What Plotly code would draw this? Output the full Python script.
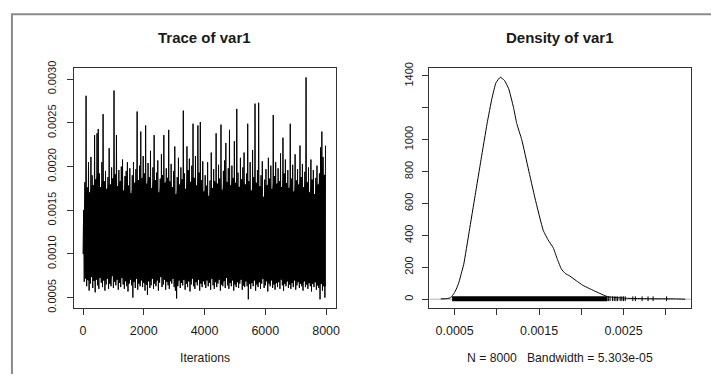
import plotly.graph_objects as go

# ---------------- data ----------------
# Trace of var1: per 40-iteration block, the block's low and high sample values
block_size = 40
trace_lo = [
    0.00100, 0.00068, 0.00072, 0.00063, 0.00070, 0.00058, 0.00066, 0.00074, 0.00061, 0.00069,
    0.00056, 0.00071, 0.00064, 0.00060, 0.00073, 0.00067, 0.00062, 0.00070, 0.00058, 0.00065,
    0.00072, 0.00060, 0.00066, 0.00063, 0.00075, 0.00061, 0.00068, 0.00064, 0.00071, 0.00059,
    0.00067, 0.00062, 0.00073, 0.00065, 0.00060, 0.00069, 0.00063, 0.00057, 0.00066, 0.00071,
    0.00064, 0.00050, 0.00068, 0.00061, 0.00072, 0.00059, 0.00066, 0.00063, 0.00070, 0.00062,
    0.00067, 0.00058, 0.00065, 0.00053, 0.00069, 0.00061, 0.00064, 0.00072, 0.00060, 0.00066,
    0.00063, 0.00070, 0.00058, 0.00067, 0.00074, 0.00062, 0.00065, 0.00071, 0.00059, 0.00068,
    0.00064, 0.00060, 0.00069, 0.00066, 0.00072, 0.00062, 0.00058, 0.00049, 0.00063, 0.00070,
    0.00061, 0.00067, 0.00064, 0.00071, 0.00059, 0.00066, 0.00062, 0.00069, 0.00057, 0.00065,
    0.00072, 0.00063, 0.00060, 0.00068, 0.00064, 0.00071, 0.00058, 0.00066, 0.00062, 0.00069,
    0.00065, 0.00061, 0.00070, 0.00063, 0.00067, 0.00059, 0.00072, 0.00064, 0.00060, 0.00068,
    0.00062, 0.00066, 0.00071, 0.00058, 0.00065, 0.00063, 0.00069, 0.00061, 0.00073, 0.00064,
    0.00060, 0.00067, 0.00063, 0.00070, 0.00058, 0.00065, 0.00062, 0.00068, 0.00061, 0.00066,
    0.00071, 0.00059, 0.00064, 0.00062, 0.00069, 0.00063, 0.00048, 0.00066, 0.00060, 0.00067,
    0.00063, 0.00070, 0.00058, 0.00065, 0.00062, 0.00068, 0.00060, 0.00066, 0.00072, 0.00061,
    0.00064, 0.00069, 0.00057, 0.00066, 0.00063, 0.00070, 0.00061, 0.00065, 0.00059, 0.00067,
    0.00062, 0.00068, 0.00060, 0.00071, 0.00064, 0.00058, 0.00066, 0.00063, 0.00069, 0.00061,
    0.00065, 0.00060, 0.00067, 0.00062, 0.00070, 0.00059, 0.00064, 0.00068, 0.00061, 0.00066,
    0.00063, 0.00058, 0.00069, 0.00062, 0.00065, 0.00060, 0.00067, 0.00063, 0.00057, 0.00066,
    0.00062, 0.00068, 0.00059, 0.00064, 0.00061, 0.00048, 0.00066, 0.00058, 0.00063, 0.00050,
]
trace_hi = [
    0.00150, 0.00182, 0.00281, 0.00176, 0.00205, 0.00170, 0.00211, 0.00190, 0.00178, 0.00236,
    0.00185, 0.00238, 0.00243, 0.00192, 0.00176, 0.00205, 0.00260, 0.00183, 0.00195, 0.00174,
    0.00188, 0.00221, 0.00179, 0.00199, 0.00186, 0.00287, 0.00191, 0.00236, 0.00177, 0.00196,
    0.00183, 0.00200, 0.00208, 0.00172, 0.00189, 0.00195, 0.00205, 0.00178, 0.00198, 0.00169,
    0.00190, 0.00205, 0.00181, 0.00197, 0.00263, 0.00184, 0.00201, 0.00240, 0.00186, 0.00212,
    0.00192, 0.00247, 0.00180, 0.00204, 0.00188, 0.00218, 0.00175, 0.00199, 0.00236, 0.00184,
    0.00193, 0.00207, 0.00170, 0.00186, 0.00214, 0.00190, 0.00236, 0.00181, 0.00198, 0.00187,
    0.00242, 0.00183, 0.00203, 0.00176, 0.00195, 0.00223, 0.00168, 0.00188, 0.00210, 0.00179,
    0.00199, 0.00185, 0.00264, 0.00192, 0.00174, 0.00223, 0.00196, 0.00209, 0.00182, 0.00201,
    0.00249, 0.00187, 0.00212, 0.00178, 0.00247, 0.00193, 0.00251, 0.00184, 0.00206, 0.00171,
    0.00190, 0.00178, 0.00205, 0.00166, 0.00184, 0.00216, 0.00175, 0.00197, 0.00183, 0.00238,
    0.00180, 0.00202, 0.00186, 0.00248, 0.00173, 0.00195, 0.00207, 0.00227, 0.00182, 0.00198,
    0.00242, 0.00178, 0.00201, 0.00187, 0.00229, 0.00181, 0.00266, 0.00193, 0.00176, 0.00210,
    0.00185, 0.00199, 0.00216, 0.00179, 0.00192, 0.00249, 0.00183, 0.00205, 0.00172, 0.00219,
    0.00188, 0.00272, 0.00181, 0.00196, 0.00273, 0.00177, 0.00190, 0.00206, 0.00165, 0.00185,
    0.00197, 0.00178, 0.00210, 0.00186, 0.00201, 0.00174, 0.00259, 0.00189, 0.00205, 0.00180,
    0.00198, 0.00183, 0.00215, 0.00176, 0.00233, 0.00192, 0.00208, 0.00181, 0.00196, 0.00175,
    0.00249, 0.00186, 0.00202, 0.00171, 0.00214, 0.00184, 0.00197, 0.00179, 0.00224, 0.00188,
    0.00203, 0.00176, 0.00194, 0.00302, 0.00182, 0.00199, 0.00170, 0.00208, 0.00185, 0.00196,
    0.00168, 0.00187, 0.00201, 0.00179, 0.00192, 0.00222, 0.00240, 0.00211, 0.00190, 0.00224,
]
trace_xticks = [0, 2000, 4000, 6000, 8000]
trace_yticks = [0.0005, 0.0010, 0.0015, 0.0020, 0.0025, 0.0030]
trace_yticklabels = ["0.0005", "0.0010", "0.0015", "0.0020", "0.0025", "0.0030"]

# Density of var1 (kernel density curve)
density_x = [0.000336, 0.000414, 0.000453, 0.000493, 0.00052, 0.000552, 0.000579, 0.000608,
             0.000673, 0.000743, 0.000813, 0.000884, 0.000942, 0.000989, 0.00104, 0.00109,
             0.00114, 0.001197, 0.001236, 0.001295, 0.001373, 0.001451, 0.001549, 0.001608,
             0.001667, 0.001717, 0.001764, 0.001811, 0.001862, 0.00194, 0.002019, 0.002175,
             0.002312, 0.002527, 0.0028, 0.003114, 0.00323]
density_y = [2, 4, 10, 37, 64, 108, 161, 219,
             426, 651, 876, 1101, 1260, 1357, 1392, 1372,
             1320, 1203, 1101, 1000, 817, 635, 432, 371,
             323, 250, 189, 161, 146, 116, 87, 47,
             16, 6, 3, 2, 0]
rug_dense_range = [0.00047, 0.00231]
rug_tail_obs = [0.00232, 0.00234, 0.00237, 0.00239, 0.00241, 0.00243, 0.00246, 0.00248,
                0.00250, 0.00252, 0.00261, 0.00264, 0.00272, 0.00279, 0.00285, 0.00301]
density_xticks = [0.0005, 0.0010, 0.0015, 0.0020, 0.0025, 0.0030]
density_xticklabels = ["0.0005", "", "0.0015", "", "0.0025", ""]
density_yticks = [0, 200, 400, 600, 800, 1000, 1200, 1400]
density_yticklabels = ["0", "200", "400", "600", "800", "1000", "", "1400"]

n_samples = 8000
bandwidth_text = "5.303e-05"

# ---------------- figure ----------------
W, H = 715, 378
FONT = "Liberation Sans, Arial, sans-serif"
TXT = "#1a1a1a"

trace_x, trace_y = [], []
for i, (lo, hi) in enumerate(zip(trace_lo, trace_hi)):
    trace_x += [i * block_size + 1, i * block_size + block_size // 2 + 1]
    trace_y += [lo, hi]

# solid core of the trace: region covered by neighbouring blocks (envelope overlap)
n = len(trace_lo)
core_x, core_hi, core_lo = [], [], []
for i in range(n):
    a, b = max(0, i - 1), min(n, i + 2)
    core_x.append(i * block_size + block_size // 4 + 1)
    core_hi.append(min(trace_hi[a:b]))
    core_lo.append(max(trace_lo[a:b]))

fig = go.Figure()
fig.add_trace(go.Scatter(x=core_x + core_x[::-1], y=core_hi + core_lo[::-1],
                         mode="lines", fill="toself", fillcolor="black",
                         line=dict(color="black", width=1, simplify=False),
                         xaxis="x", yaxis="y", hoverinfo="skip"))
fig.add_trace(go.Scatter(x=trace_x, y=trace_y, mode="lines",
                         line=dict(color="black", width=1, simplify=False),
                         xaxis="x", yaxis="y", hoverinfo="skip"))

fig.add_trace(go.Scatter(x=density_x, y=density_y, mode="lines",
                         line=dict(color="black", width=1, shape="spline", smoothing=0.4,
                                   simplify=False),
                         xaxis="x2", yaxis="y2", hoverinfo="skip"))
# rug: dense part as a thick band, sparse tail as individual ticks
fig.add_trace(go.Scatter(x=rug_dense_range, y=[3, 3], mode="lines",
                         line=dict(color="black", width=5),
                         xaxis="x2", yaxis="y2", hoverinfo="skip"))
rx, ry = [], []
for v in rug_tail_obs:
    rx += [v, v, None]
    ry += [-12, 18, None]
fig.add_trace(go.Scatter(x=rx, y=ry, mode="lines",
                         line=dict(color="black", width=1),
                         xaxis="x2", yaxis="y2", hoverinfo="skip"))

dom1 = [74 / W, 338 / W]
dom2 = [431.7 / W, 695 / W]
ydom = [1 - 310 / H, 1 - 63 / H]

axis_common = dict(showgrid=False, zeroline=False, showline=True, mirror=True,
                   linecolor="#333", linewidth=1, ticks="outside", ticklen=6,
                   tickcolor="#333", tickwidth=1)

fig.update_layout(
    width=W, height=H, margin=dict(l=0, r=0, t=0, b=0),
    paper_bgcolor="white", plot_bgcolor="white", showlegend=False,
    font=dict(family=FONT, color=TXT),
    xaxis=dict(domain=dom1, anchor="y", range=[-310, 8330],
               tickvals=trace_xticks, ticktext=[str(v) for v in trace_xticks],
               tickfont=dict(size=12.5, color=TXT), ticklabelstandoff=5, **axis_common),
    yaxis=dict(domain=ydom, anchor="x", range=[0.000381, 0.003126],
               tickvals=trace_yticks, ticktext=trace_yticklabels, tickangle=-90,
               tickfont=dict(size=11, color=TXT), ticklabelstandoff=6, **axis_common),
    xaxis2=dict(domain=dom2, anchor="y2", range=[0.0002, 0.0033],
                tickvals=density_xticks, ticktext=density_xticklabels,
                tickfont=dict(size=12.5, color=TXT), ticklabelstandoff=5, **axis_common),
    yaxis2=dict(domain=ydom, anchor="x2", range=[-55, 1449],
                tickvals=density_yticks, ticktext=density_yticklabels, tickangle=-90,
                tickfont=dict(size=11, color=TXT), ticklabelstandoff=5, **axis_common),
)

# zero line on the density panel
fig.add_shape(type="line", xref="x2 domain", yref="y2", x0=0, x1=1, y0=0, y1=0,
              line=dict(color="#b5b5b5", width=1), layer="below")

# outer frame (gray)
fig.add_shape(type="line", xref="paper", yref="paper", x0=12 / W, x1=12 / W,
              y0=0, y1=1 - 7.5 / H, line=dict(color="#8a8a8a", width=2))
fig.add_shape(type="line", xref="paper", yref="paper", x0=11 / W, x1=1,
              y0=1 - 7.5 / H, y1=1 - 7.5 / H, line=dict(color="#8a8a8a", width=2))

cx1 = (dom1[0] + dom1[1]) / 2
cx2 = (dom2[0] + dom2[1]) / 2
ann = [
    dict(text="<b>Trace of var1</b>", x=cx1, y=1 - 31.5 / H, size=15),
    dict(text="<b>Density of var1</b>", x=cx2, y=1 - 31.5 / H, size=15),
    dict(text="Iterations", x=cx1, y=1 - 362 / H, size=12.2),
    dict(text=f"N = {n_samples}\u00a0\u00a0\u00a0Bandwidth = {bandwidth_text}", x=cx2,
         y=1 - 362 / H, size=12.2),
]
for a in ann:
    fig.add_annotation(text=a["text"], x=a["x"], y=a["y"], xref="paper", yref="paper",
                       xanchor="center", yanchor="middle", showarrow=False,
                       font=dict(family=FONT, size=a["size"], color=TXT))

fig.write_html("out.html")
